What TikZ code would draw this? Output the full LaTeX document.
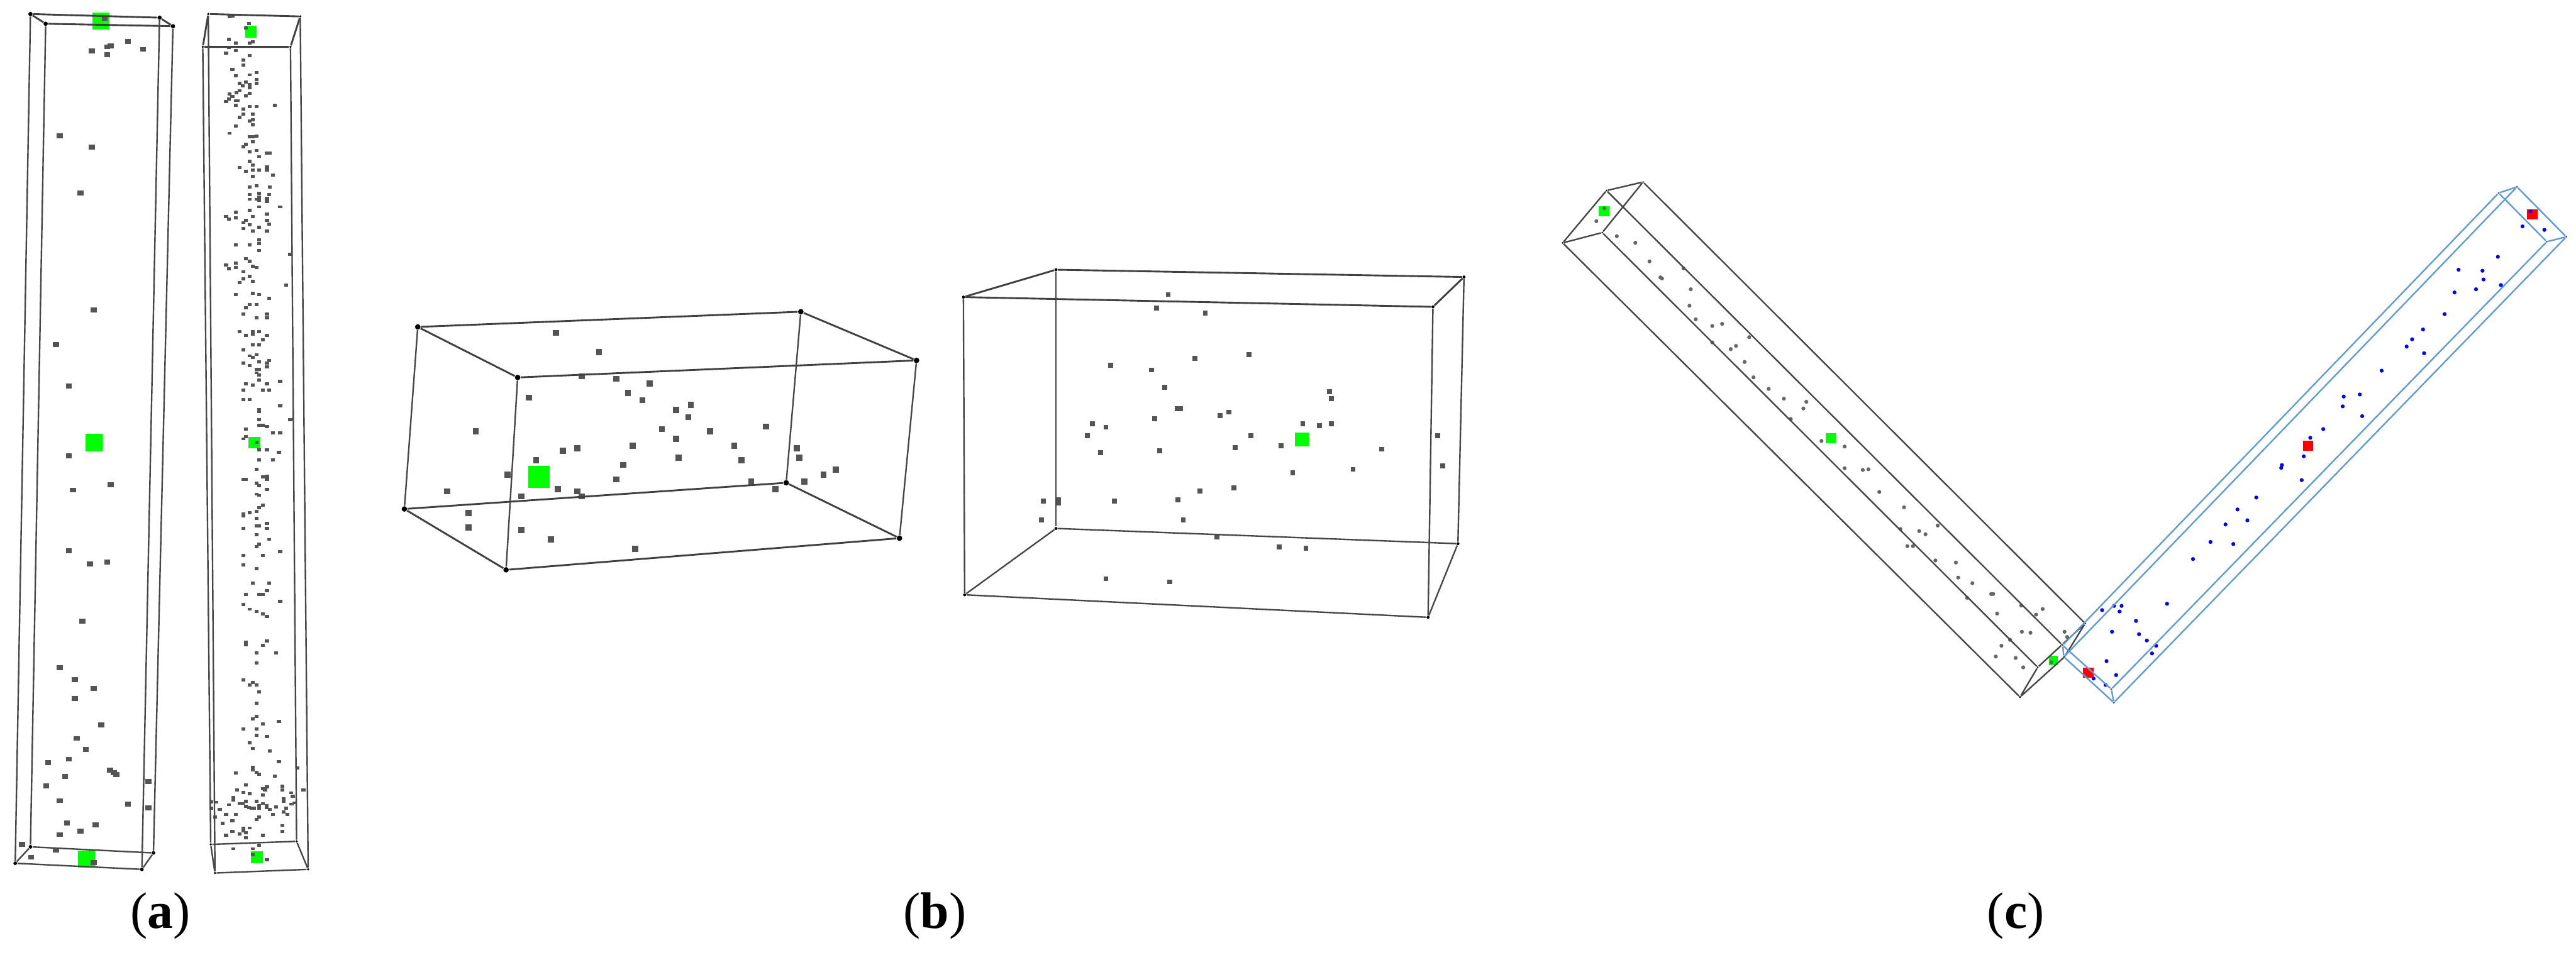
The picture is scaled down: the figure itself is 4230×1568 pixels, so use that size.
\documentclass[tikz,border=0pt]{standalone}
\usepackage{fontspec}
\setmainfont{Liberation Serif}
\definecolor{boxblue}{RGB}{96,155,210}

\begin{document}
\begin{tikzpicture}[x=0.01cm,y=-0.01cm]

% --- Global TikZ Styles for Consistency ---
\tikzset{
    dotbase/.style={rectangle, fill=black!67, inner sep=0pt},
    dotA/.style={dotbase, minimum width=0.10cm, minimum height=0.08cm},
    dotB/.style={dotbase, minimum width=0.065cm, minimum height=0.05cm},
    dotC/.style={dotbase, minimum width=0.10cm, minimum height=0.10cm},
    dotD/.style={dotbase, minimum width=0.08cm, minimum height=0.08cm},
    dotE/.style={circle, fill=black!60, inner sep=0pt, minimum size=0.065cm},
    dotF/.style={circle, fill=blue, inner sep=0pt, minimum size=0.065cm},
    seedbox/.style={rectangle, fill=green, inner sep=0pt, minimum size=#1},
    sinkbox/.style={rectangle, fill=red, inner sep=0pt, minimum size=#1},
    corner/.style={circle, fill=black, inner sep=0pt, minimum size=#1},
    bluecorner/.style={circle, fill=boxblue!60!black, inner sep=0pt, minimum size=0.035cm},
    edge/.style={draw=black!75, line width=0.85pt},
    thinedge/.style={draw=black!72, line width=0.7pt},
    blueedge/.style={draw=boxblue, line width=0.7pt},
    sublabel/.style={font=\fontsize{24}{28}\selectfont}
}

\useasboundingbox (0,0) rectangle (4230,1568);

% Panel a, slender box on the left
\node[seedbox=0.28cm] (ga1) at (166,35) {};
\node[seedbox=0.28cm] (ga2) at (154,727) {};
\node[seedbox=0.28cm] (ga3) at (142,1411) {};

\foreach \x/\y [count=\i] in {172/30,151/84,176/77,182/75,176/90,210/68,235/81,98/223,151/242,132/317,154/509,92/566,113/634,113/749,120/805,182/796,113/905,148/926,176/923,135/1020,98/1097,123/1116,154/1131,123/1147,166/1191,126/1213,141/1231,79/1253,113/1247,181/1265,187/1269,191/1272,107/1275,76/1291,244/1284,98/1315,210/1321,244/1327,110/1352,157/1355,132/1365,98/1371,36/1387,92/1396,51/1408,154/1417}
    \node[dotA] (pa\i) at (\x,\y) {};

\node[corner=0.07cm] (a1) at (50,23) {};
\node[corner=0.07cm] (a2) at (262,29) {};
\node[corner=0.07cm] (a3) at (284,43) {};
\node[corner=0.07cm] (a4) at (75,39) {};
\node[corner=0.06cm] (a5) at (50,1391) {};
\node[corner=0.06cm] (a6) at (252,1401) {};
\node[corner=0.06cm] (a7) at (233,1428) {};
\node[corner=0.06cm] (a8) at (25,1418) {};
\draw[edge] (a1) -- (a2) -- (a3) -- (a4) -- (a1);
\draw[thinedge] (a5) -- (a6) -- (a7) -- (a8) -- (a5);
\draw[thinedge] (a1) -- (a8);
\draw[thinedge] (a4) -- (a5);
\draw[thinedge] (a2) -- (a7);
\draw[thinedge] (a3) -- (a6);

% Panel a, the box with many points
\node[seedbox=0.195cm] (gb1) at (412,52) {};
\node[seedbox=0.195cm] (gb2) at (418,727) {};
\node[seedbox=0.195cm] (gb3) at (422,1408) {};

\begin{scope}[xscale=0.3333,yscale=0.4974]
\foreach \x/\y [count=\i] in {1130/55,1145/53,1228/77,1212/93,1127/130,1162/142,1230/142,1246/138,1127/157,1162/167,1114/175,1230/183,1199/199,1199/215,1145/230,1162/251,1230/247,1265/239,1265/263,1265/275,1180/275,1212/271,1197/283,1230/279,1230/289,1180/299,1165/307,1130/311,1145/319,1230/309,1212/316,1127/327,1114/336,1162/332,1172/332,1162/348,1230/352,1199/360,1265/352,1355/348,1199/376,1246/376,1180/388,1230/400,1246/396,1246/412,1162/416,1132/440,1230/452,1246/452,1265/449,1246/468,1212/476,1199/485,1230/501,1265/497,1277/517,1315/505,1330/505,1230/533,1246/545,1180/553,1212/566,1246/562,1277/562,1315/552,1315/562,1246/582,1344/578,1230/618,1265/614,1330/618,1230/642,1277/638,1277/650,1230/658,1265/658,1277/662,1315/655,1315/666,1327/642,1277/683,1380/683,1230/695,1162/700,1315/707,1114/715,1127/723,1162/720,1246/715,1315/727,1212/727,1199/735,1230/743,1327/740,1199/755,1277/751,1246/763,1315/763,1162/808,1230/808,1277/792,1277/804,1277/827,1430/840,1212/855,1230/863,1114/875,1127/888,1162/868,1162/884,1246/880,1265/884,1199/897,1230/912,1199/921,1180/933,1246/929,1410/941,1162/973,1246/969,1277/973,1327/985,1230/1005,1265/1005,1212/1017,1199/1037,1265/1049,1315/1037,1315/1049,1180/1095,1212/1107,1246/1095,1246/1103,1277/1095,1315/1108,1296/1123,1246/1139,1277/1139,1199/1155,1230/1175,1246/1180,1265/1171,1199/1199,1230/1207,1277/1195,1327/1191,1315/1199,1315/1211,1265/1219,1277/1219,1265/1231,1277/1239,1277/1255,1212/1267,1246/1272,1315/1267,1380/1259,1199/1288,1296/1288,1327/1288,1199/1320,1230/1320,1380/1340,1277/1352,1277/1360,1277/1385,1430/1385,1277/1405,1296/1405,1315/1409,1212/1417,1344/1429,1380/1429,1212/1441,1199/1449,1265/1461,1277/1486,1315/1486,1374/1494,1277/1518,1344/1518,1265/1550}
    \node[dotB] (pb\i) at (\x,\y) {};
\end{scope}
\begin{scope}[shift={(0,780)},xscale=0.3333,yscale=0.5026]
\foreach \x/\y [count=\i] in {1199/15,1212/15,1296/7,1315/5,1315/15,1265/27,1277/35,1315/47,1265/63,1277/67,1296/99,1277/107,1265/119,1230/123,1199/127,1199/135,1265/143,1265/167,1277/167,1315/158,1315/175,1199/175,1265/195,1327/211,1277/227,1265/235,1199/263,1296/263,1380/251,1199/295,1265/306,1246/354,1327/354,1315/378,1212/390,1277/390,1296/390,1380/414,1199/423,1230/439,1265/447,1296/455,1315/463,1212/547,1212/556,1315/542,1296/558,1265/582,1361/582,1265/614,1199/671,1230/687,1246/679,1265/687,1277/710,1265/746,1265/790,1246/798,1296/814,1374/806,1199/830,1265/830,1265/851,1315/855,1230/876,1246/894,1330/902,1374/938,1246/955,1246/965,1265/973,1277/978,1162/974,1355/985,1465/958,1212/1014,1168/1030,1296/1026,1315/1020,1306/1030,1392/1018,1392/1030,1495/1030,1199/1038,1230/1042,1296/1047,1435/1039,1442/1050,1150/1054,1150/1062,1398/1058,1398/1066,1040/1068,1065/1070,1212/1067,1265/1067,1127/1078,1180/1074,1196/1074,1296/1074,1277/1080,1277/1090,1314/1080,1314/1088,1212/1083,1226/1087,1240/1090,1250/1090,1450/1072,1436/1076,1361/1086,1410/1090,1040/1090,1083/1094,1330/1094,1398/1102,1415/1110,1344/1110,1060/1118,1114/1110,1162/1110,1277/1118,1265/1126,1145/1130,1096/1138,1392/1146,1392/1166,1230/1154,1199/1155,1199/1163,1212/1170,1145/1166,1114/1178,1180/1174,1296/1178,1212/1186,1277/1210,1150/1222,1246/1222,1246/1242,1315/1258}
    \node[dotB] (pc\i) at (\x,\y) {};
\end{scope}

\node[corner=0.04cm] (b1) at (342,23) {};
\node[corner=0.04cm] (b2) at (493,27) {};
\node[corner=0.04cm] (b3) at (477,77) {};
\node[corner=0.04cm] (b4) at (333,77) {};
\node[corner=0.04cm] (b5) at (346,1387) {};
\node[corner=0.04cm] (b6) at (487,1382) {};
\node[corner=0.04cm] (b7) at (506,1428) {};
\node[corner=0.04cm] (b8) at (353,1434) {};
\draw[edge] (b1) -- (b2) -- (b3) -- (b4) -- (b1);
\draw[thinedge] (b5) -- (b6) -- (b7) -- (b8) -- (b5);
\draw[thinedge] (b4) -- (b5);
\draw[thinedge] (b1) -- (b8);
\draw[thinedge] (b3) -- (b6);
\draw[thinedge] (b2) -- (b7);

% Panel b, left box
\node[seedbox=0.36cm] (gc1) at (885,783) {};
\begin{scope}[shift={(620,460)},xscale=0.5867,yscale=0.3316]
\foreach \x/\y [count=\i] in {499/262,620/357,572/477,668/489,762/512,424/583,701/560,741/595,877/619,836/643,870/679,275/749,796/738,931/749,1087/726,836/786,714/821,998/821,519/845,559/833,1174/833,843/881,1019/892,1181/881,444/892,687/916,1283/940,1248/964,364/964,668/987,1046/999,1194/999,505/1035,559/1047,1113/1035,195/1047,403/1071,572/1071,255/1153,255/1225,403/1237,485/1284,721/1332}
    \node[dotC] (pd\i) at (\x,\y) {};
\end{scope}

\node[corner=0.09cm] (c1) at (686,537) {};
\node[corner=0.09cm] (c2) at (1315,512) {};
\node[corner=0.09cm] (c3) at (1505,592) {};
\node[corner=0.09cm] (c4) at (850,620) {};
\node[corner=0.09cm] (c5) at (664,836) {};
\node[corner=0.09cm] (c6) at (1291,793) {};
\node[corner=0.09cm] (c7) at (1477,884) {};
\node[corner=0.09cm] (c8) at (831,936) {};
\draw[edge] (c1) -- (c2) -- (c3) -- (c4) -- (c1);
\draw[edge] (c5) -- (c6) -- (c7) -- (c8) -- (c5);
\draw[thinedge] (c1) -- (c5);
\draw[thinedge] (c2) -- (c6);
\draw[thinedge] (c3) -- (c7);
\draw[thinedge] (c4) -- (c8);

% Panel b, right box
\node[seedbox=0.225cm] (gd1) at (2138,722) {};
\begin{scope}[shift={(1540,400)},xscale=0.574,yscale=0.4145]
\foreach \x/\y [count=\i] in {659/202,625/255,765/275,890/441,736/455,495/482,611/501,649/569,1121/588,1126/615,685/655,694/655,832/668,808/681,620/695,442/715,481/728,1044/715,1092/722,1126/715,428/762,895/762,1430/762,982/801,851/808,1270/815,466/828,635/822,1444/881,1188/895,1015/908,847/968,750/981,687/1015,302/1021,346/1015,346/1028,505/1021,297/1095,702/1095,798/1162,977/1202,1053/1208,481/1328,663/1341}
    \node[dotD] (pe\i) at (\x,\y) {};
\end{scope}

\node[corner=0.05cm] (d1) at (1734,443) {};
\node[corner=0.05cm] (d2) at (2404,455) {};
\node[corner=0.05cm] (d3) at (2353,504) {};
\node[corner=0.05cm] (d4) at (1582,488) {};
\node[corner=0.05cm] (d5) at (1734,868) {};
\node[corner=0.05cm] (d6) at (2394,893) {};
\node[corner=0.05cm] (d7) at (2345,1014) {};
\node[corner=0.05cm] (d8) at (1584,977) {};
\draw[edge] (d1) -- (d2) -- (d3) -- (d4) -- (d1);
\draw[thinedge] (d5) -- (d6) -- (d7) -- (d8) -- (d5);
\draw[thinedge] (d1) -- (d5);
\draw[thinedge] (d2) -- (d6);
\draw[thinedge] (d3) -- (d7);
\draw[thinedge] (d4) -- (d8);

% Panel c, black box
\node[seedbox=0.17cm] (ge1) at (2634,347) {};
\node[seedbox=0.17cm] (ge2) at (3006,720) {};
\node[seedbox=0.15cm] (ge3) at (3372,1085) {};
\begin{scope}[shift={(2540,280)},xscale=0.5421,yscale=0.574]
\foreach \x/\y [count=\i] in {174/108,150/145,212/188,268/207,311/260,344/306,349/309,414/280,436/340,432/387,451/426,501/445,531/439,501/492,557/511,573/502,613/477,599/548,626/592,672/625,718/653,786/662,777/681,739/711,832/774,902/790,902/852,957/857,974/855,1007/920,1082/964,1184/1016,1071/1026,1128/1032,1147/1041,1092/1075,1109/1075,1177/1116,1239/1122,1246/1165,1289/1181,1273/1223,1346/1212,1352/1212,1437/1245,1502/1255,1482/1271,1364/1268,1439/1320,1465/1323,1403/1343,1377/1360,1360/1391,1420/1395,1443/1422,1528/1407,1568/1320,1576/1335}
    \node[dotE] (pf\i) at (\x,\y) {};
\end{scope}

\node[corner=0.03cm] (e1) at (2566,399) {};
\node[corner=0.03cm] (e2) at (2638,313) {};
\node[corner=0.03cm] (e3) at (2698,299) {};
\node[corner=0.03cm] (e4) at (2631,382) {};
\node[corner=0.04cm] (e5) at (3317,1145) {};
\node[corner=0.03cm] (e6) at (3346,1096) {};
\node[corner=0.03cm] (e7) at (3386,1059) {};
\node[corner=0.03cm] (e8) at (3424,1024) {};
\node[corner=0.03cm] (e9) at (3390,1079) {};
\draw[thinedge] (e1) -- (e2) -- (e3) -- (e4) -- (e1);
\draw[thinedge] (e5) -- (e6) -- (e7) -- (e8) -- (e9) -- (e5);
\draw[thinedge] (e1) -- (e5);
\draw[thinedge] (e4) -- (e6);
\draw[thinedge] (e2) -- (e7);
\draw[thinedge] (e3) -- (e8);

% Panel c, blue box
\node[sinkbox=0.17cm] (rf1) at (3429,1105) {};
\node[sinkbox=0.17cm] (rf2) at (3790,732) {};
\node[sinkbox=0.17cm] (rf3) at (4158,352) {};
\begin{scope}[shift={(3330,280)},xscale=0.5612,yscale=0.574]
\foreach \x/\y [count=\i] in {1470/117,1447/160,1511/170,1375/247,1260/284,1330/287,1333/312,1384/328,1311/340,1248/349,1219/411,1156/455,1124/483,1108/504,1159/523,1035/573,924/647,971/641,921/675,978/703,864/740,826/765,807/818,743/843,741/851,801/886,668/936,613/970,642/1001,578/1013,534/1063,601/1069,483/1112,407/1240,217/1258,252/1246,274/1246,268/1262,316/1289,246/1320,325/1327,348/1345,375/1360,363/1382,230/1404,258/1444,192/1454,227/1472}
    \node[dotF] (pg\i) at (\x,\y) {};
\end{scope}

\node[bluecorner] (f1) at (4103,317) {};
\node[bluecorner] (f2) at (4133,307) {};
\node[bluecorner] (f3) at (4214,389) {};
\node[bluecorner] (f4) at (4182,397) {};
\node[bluecorner] (f5) at (3387,1060) {};
\node[bluecorner] (f6) at (3389,1079) {};
\node[bluecorner] (f7) at (3471,1154) {};
\node[bluecorner] (f8) at (3467,1132) {};
\draw[blueedge] (f1) -- (f2) -- (f3) -- (f4) -- (f1);
\draw[blueedge] (f5) -- (f6) -- (f7) -- (f8) -- (f5);
\draw[blueedge] (f1) -- (f5);
\draw[blueedge] (f2) -- (f6);
\draw[blueedge] (f3) -- (f7);
\draw[blueedge] (f4) -- (f8);

% Captions
\node[sublabel] (capa) at (263,1504) {(\textbf{a})};
\node[sublabel] (capb) at (1535,1504) {(\textbf{b})};
\node[sublabel] (capc) at (3310,1504) {(\textbf{c})};

\end{tikzpicture}
\end{document}
